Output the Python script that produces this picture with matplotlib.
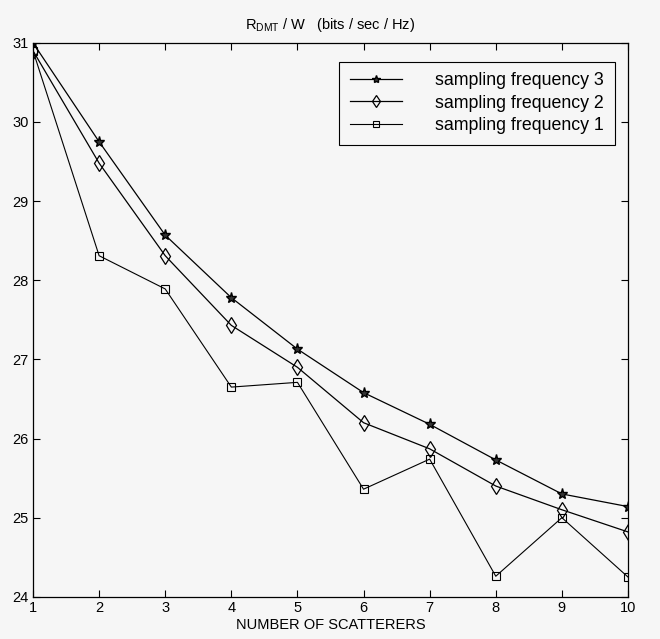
import numpy as np
import matplotlib.pyplot as plt

plt.rcParams['font.family'] = ['Liberation Sans', 'DejaVu Sans']
plt.rcParams['mathtext.fontset'] = 'custom'
plt.rcParams['mathtext.rm'] = 'Liberation Sans'
plt.rcParams['mathtext.it'] = 'Liberation Sans'

# number of scatterers
scatterers = [1, 2, 3, 4, 5, 6, 7, 8, 9, 10]

# R_DMT / W for each sampling frequency
freq3 = [31.0, 29.75, 28.57, 27.78, 27.13, 26.58, 26.18, 25.73, 25.30, 25.14]
freq2 = [30.9, 29.48, 28.31, 27.43, 26.90, 26.20, 25.87, 25.40, 25.10, 24.82]
freq1 = [30.9, 28.31, 27.89, 26.65, 26.71, 25.36, 25.74, 24.26, 25.00, 24.25]

labels = ['sampling frequency 3', 'sampling frequency 2', 'sampling frequency 1']

fig = plt.figure(figsize=(6.6, 6.39), dpi=100)
fig.patch.set_facecolor('#f6f6f6')
ax = fig.add_axes([0.05, 0.066, 0.9015, 0.867])
ax.set_facecolor('#f6f6f6')

# plotting the three curves
ax.plot(scatterers, freq3, color='k', lw=0.9, marker='*', ms=8,
        mfc='#333333', mec='k', label=labels[0])
ax.plot(scatterers, freq2, color='k', lw=0.9, marker='d', ms=8,
        mfc='none', mec='k', mew=0.9, label=labels[1])
ax.plot(scatterers, freq1, color='k', lw=0.8, marker='s', ms=6,
        mfc='none', mec='k', mew=0.8, label=labels[2])

ax.set_xlim(1, 10)
ax.set_ylim(24, 31)
ax.set_xticks(scatterers)
ax.set_yticks(range(24, 32))
ax.tick_params(direction='in', top=True, right=True, length=5, width=0.8,
               labelsize=10.5, pad=3)
for s in ax.spines.values():
    s.set_linewidth(0.9)

ax.set_xlabel('NUMBER OF SCATTERERS', fontsize=10.5, labelpad=2)
ax.set_title(r'R$_{\mathrm{DMT}}$ / W   (bits / sec / Hz)', fontsize=10.5, pad=10)

leg = ax.legend(loc='upper right', bbox_to_anchor=(0.978, 0.966), borderaxespad=0,
                fontsize=12.8, frameon=True, fancybox=False, edgecolor='k',
                facecolor='#f6f6f6', framealpha=1, handlelength=2.9,
                handletextpad=1.9, labelspacing=0.3, borderpad=0.6,
                markerscale=0.75)
leg.get_frame().set_linewidth(0.8)

fig.savefig('out.png', dpi=100, facecolor=fig.get_facecolor())
